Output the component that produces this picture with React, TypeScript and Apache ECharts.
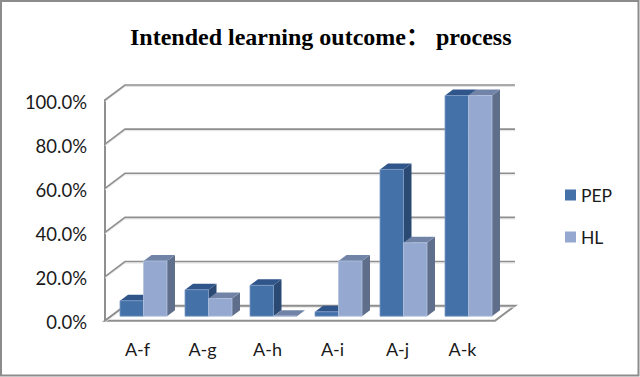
import React, { useEffect, useRef } from "react";
import * as echarts from "echarts";

const categories = ["A-f", "A-g", "A-h", "A-i", "A-j", "A-k"];
const pepValues = [7, 12, 14, 2, 66.5, 100];
const hlValues = [25, 8, 0, 25, 33.3, 100];
const yTicks = [0, 20, 40, 60, 80, 100];
const titleText = "Intended learning outcome： process";

const WALL_DX = 20;
const WALL_DY = -15;
const BAR_SHIFT_X = 6;
const BAR_SHIFT_Y = -4.5;
const BAR_DX = 8;
const BAR_DY = -6;
const LINE = "#8f8f8f";

const barSeries = (name: string, data: number[], side: number, front: string, top: string, right: string, edge: string) => ({
  type: "custom",
  name,
  coordinateSystem: "cartesian2d",
  itemStyle: { color: front },
  z: 5,
  encode: { x: 0, y: 1 },
  data: data.map((v, i) => [i, v]),
  renderItem: (_p: any, api: any) => {
    const base = api.coord([api.value(0), 0]);
    const tip = api.coord([api.value(0), api.value(1)]);
    const w = api.size([1, 0])[0] * 0.3615;
    const xa = base[0] + BAR_SHIFT_X + (side < 0 ? -w : 0);
    const xb = xa + w;
    const yb = base[1] + BAR_SHIFT_Y;
    const yt = tip[1] + BAR_SHIFT_Y;
    return {
      type: "group",
      children: [
        {
          type: "polygon",
          shape: { points: [[xb, yb], [xb + BAR_DX, yb + BAR_DY], [xb + BAR_DX, yt + BAR_DY], [xb, yt]] },
          style: { fill: right },
        },
        {
          type: "polygon",
          shape: { points: [[xa, yt], [xa + BAR_DX, yt + BAR_DY], [xb + BAR_DX, yt + BAR_DY], [xb, yt]] },
          style: { fill: top },
        },
        {
          type: "rect",
          shape: { x: xa, y: yt, width: w, height: yb - yt },
          style: { fill: front, stroke: edge, lineWidth: 0.8 },
        },
      ],
    };
  },
});

export default function App() {
  const ref = useRef<HTMLDivElement>(null);
  useEffect(() => {
    document.body.style.margin = "0";
    const chart = echarts.init(ref.current!, null, { renderer: "svg" });
    chart.setOption({
      animation: false,
      backgroundColor: "#ffffff",
      title: {
        text: titleText,
        left: 125,
        top: 20,
        textStyle: { fontFamily: "'Liberation Serif','Noto Sans CJK SC',serif", fontWeight: "bold", fontSize: 24, color: "#000" },
      },
      legend: {
        orient: "vertical",
        left: 560,
        top: 181,
        itemWidth: 11,
        itemHeight: 11,
        itemGap: 24,
        icon: "rect",
        data: ["PEP", "HL"],
        textStyle: { fontFamily: "Lato", fontSize: 17.5, color: "#1a1a1a" },
      },
      grid: { left: 105, top: 100, width: 390, height: 220.7 },
      xAxis: {
        type: "category",
        data: categories,
        axisLine: { show: false },
        axisTick: { show: false },
        axisLabel: { margin: 19, fontFamily: "Lato", fontSize: 18, color: "#1a1a1a" },
      },
      yAxis: {
        type: "value",
        min: 0,
        max: 100,
        interval: 20,
        axisLine: { show: true, lineStyle: { color: LINE, width: 2 } },
        axisTick: { show: false },
        splitLine: { show: false },
        axisLabel: { margin: 18, verticalAlign: "top", lineHeight: 3, fontFamily: "Lato", fontSize: 18.5, color: "#1a1a1a", formatter: (v: number) => `${v.toFixed(1)}%` },
      },
      series: [
        {
          type: "custom",
          coordinateSystem: "cartesian2d",
          z: 1,
          silent: true,
          encode: { x: 0, y: 1 },
          data: yTicks.map((t) => [0, t]),
          renderItem: (p: any, api: any) => {
            const cs = p.coordSys;
            const y = api.coord([0, api.value(1)])[1];
            const pts = [[cs.x, y], [cs.x + WALL_DX, y + WALL_DY], [cs.x + cs.width + WALL_DX, y + WALL_DY]];
            const children: any[] = [];
            if (api.value(1) === 0) {
              children.push({
                type: "polygon",
                shape: { points: [[cs.x, y], [cs.x + WALL_DX, y + WALL_DY], [cs.x + cs.width + WALL_DX, y + WALL_DY], [cs.x + cs.width, y]] },
                style: { fill: "#fff", stroke: LINE, lineWidth: 2 },
              });
            }
            children.push({
              type: "polyline",
              shape: { points: pts.map((q) => [q[0], q[1] + 1.5]) },
              style: { fill: "none", stroke: "#e2e2e2", lineWidth: 1 },
            });
            children.push({
              type: "polyline",
              shape: { points: pts },
              style: { fill: "none", stroke: LINE, lineWidth: 1.6 },
            });
            return { type: "group", children };
          },
        },
        barSeries("PEP", pepValues, -1, "#4371a8", "#30558a", "#2b4a73", "#7c9ac4"),
        barSeries("HL", hlValues, 1, "#95a9d0", "#7184a8", "#5f6e8a", "#b4c3de"),
      ],
      graphic: [
        {
          type: "rect",
          shape: { x: 1, y: 1, width: 637.5, height: 374.5 },
          style: { fill: "none", stroke: "#8c8c8c", lineWidth: 2 },
          z: 100,
        },
      ],
    });
    return () => chart.dispose();
  }, []);
  return <div ref={ref} style={{ width: 640, height: 377 }} />;
}
